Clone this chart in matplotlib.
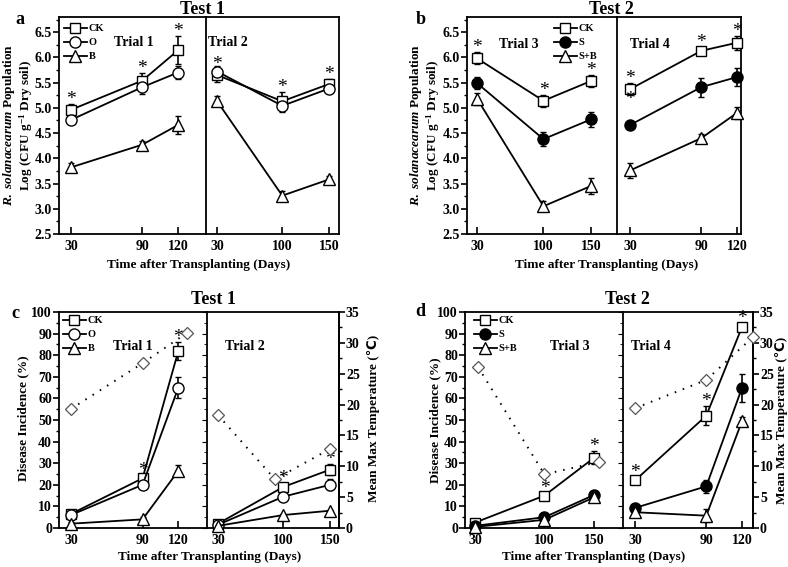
import numpy as np
import matplotlib.pyplot as plt
from matplotlib.lines import Line2D
from matplotlib.ticker import MultipleLocator, FormatStrFormatter

W, H = 788, 567

# ---- data: pathogen population, Test 1 ----
days_t1 = [30, 90, 120]
days_t2 = [30, 100, 150]
days_t3 = [30, 100, 150]
days_t4 = [30, 90, 120]

pop_t1_ck = [4.96, 5.54, 6.14]
pop_t1_ck_err = [0.11, 0.15, 0.28]
pop_t1_o = [4.76, 5.41, 5.70]
pop_t1_o_err = [0.07, 0.13, 0.12]
pop_t1_b = [3.82, 4.27, 4.66]
pop_t1_b_err = [0.08, 0.08, 0.18]

pop_t2_ck = [5.65, 5.13, 5.47]
pop_t2_ck_err = [0.13, 0.18, 0.10]
pop_t2_o = [5.72, 5.04, 5.38]
pop_t2_o_err = [0.10, 0.12, 0.08]
pop_t2_b = [5.13, 3.26, 3.58]
pop_t2_b_err = [0.10, 0.10, 0.06]

# ---- data: pathogen population, Test 2 ----
pop_t3_ck = [5.98, 5.14, 5.53]
pop_t3_ck_err = [0.12, 0.12, 0.12]
pop_t3_s = [5.49, 4.38, 4.77]
pop_t3_s_err = [0.12, 0.14, 0.14]
pop_t3_sb = [5.18, 3.05, 3.45]
pop_t3_sb_err = [0.12, 0.10, 0.16]

pop_t4_ck = [5.37, 6.13, 6.29]
pop_t4_ck_err = [0.12, 0.08, 0.14]
pop_t4_s = [4.66, 5.41, 5.61]
pop_t4_s_err = [0.07, 0.19, 0.17]
pop_t4_sb = [3.76, 4.40, 4.90]
pop_t4_sb_err = [0.15, 0.09, 0.12]

# ---- data: disease incidence (%) ----
dis_t1_ck = [6.5, 23.0, 82.0]
dis_t1_ck_err = [1.5, 1.5, 4.0]
dis_t1_o = [6.0, 20.0, 65.0]
dis_t1_o_err = [1.5, 1.5, 5.0]
dis_t1_b = [2.0, 4.0, 26.5]
dis_t1_b_err = [1.0, 1.0, 2.5]

dis_t2_ck = [2.0, 19.0, 27.0]
dis_t2_ck_err = [0.5, 2.0, 2.5]
dis_t2_o = [1.5, 14.5, 20.0]
dis_t2_o_err = [0.5, 1.5, 2.5]
dis_t2_b = [1.0, 6.0, 8.0]
dis_t2_b_err = [0.5, 0.5, 0.5]

dis_t3_ck = [2.5, 15.0, 32.5]
dis_t3_ck_err = [1.0, 1.5, 3.0]
dis_t3_s = [1.0, 5.0, 15.3]
dis_t3_s_err = [0.5, 1.0, 1.0]
dis_t3_sb = [0.5, 3.8, 14.2]
dis_t3_sb_err = [0.5, 2.0, 2.0]

dis_t4_ck = [22.0, 52.0, 93.0]
dis_t4_ck_err = [1.5, 4.5, 2.0]
dis_t4_s = [9.3, 19.3, 64.8]
dis_t4_s_err = [1.5, 3.0, 6.5]
dis_t4_sb = [7.3, 5.7, 49.4]
dis_t4_sb_err = [1.5, 3.0, 2.0]

# ---- data: mean max temperature (C) ----
temp_t1_days = [30, 90, 127]
temp_t1 = [19.3, 26.7, 31.6]
temp_t2_days = [30, 91, 150]
temp_t2 = [18.3, 7.9, 12.8]
temp_t3_days = [33, 100, 155]
temp_t3 = [26.1, 8.7, 10.7]
temp_t4_days = [30, 90, 129]
temp_t4 = [19.4, 24.0, 30.9]

# significance marks (1 = asterisk above CK)
star_a_t1 = [1, 1, 1]
star_a_t2 = [1, 1, 1]
star_b_t3 = [1, 1, 1]
star_b_t4 = [1, 1, 1]
star_c_t1 = [0, 1, 1]
star_c_t2 = [0, 1, 1]
star_d_t3 = [0, 1, 1]
star_d_t4 = [1, 1, 1]

plt.rcParams['font.family'] = ['Liberation Serif', 'DejaVu Sans']
plt.rcParams['font.weight'] = 'bold'
plt.rcParams['mathtext.fontset'] = 'custom'
plt.rcParams['mathtext.rm'] = 'Liberation Serif:bold'
plt.rcParams['mathtext.it'] = 'Liberation Serif:italic:bold'
plt.rcParams['mathtext.bf'] = 'Liberation Serif:bold'

fig = plt.figure(figsize=(W / 100, H / 100), dpi=100)

MARK = {'s': 7.5, 'o': 8, '^': 9}


def px(x, y):
    return x / W, 1 - y / H


def panel(l, d, r, t, b, xlimL, xlimR, ylim, major, minor, fmt):
    axL = fig.add_axes([l / W, 1 - b / H, (d - l) / W, (b - t) / H])
    axR = fig.add_axes([d / W, 1 - b / H, (r - d) / W, (b - t) / H], sharey=axL)
    axL.set_xlim(*xlimL)
    axR.set_xlim(*xlimR)
    axL.set_ylim(*ylim)
    axL.spines['right'].set_visible(False)
    for ax in (axL, axR):
        for s in ax.spines.values():
            s.set_linewidth(1.3)
        ax.tick_params(axis='x', direction='in', length=5, width=1.2,
                       labelsize=10, pad=4)
    axL.yaxis.set_major_locator(MultipleLocator(major))
    axL.yaxis.set_minor_locator(MultipleLocator(minor))
    axL.yaxis.set_major_formatter(FormatStrFormatter(fmt))
    axL.tick_params(axis='y', which='major', direction='out', length=4,
                    width=1.2, labelsize=10, pad=1)
    axL.tick_params(axis='y', which='minor', direction='out', length=2,
                    width=1)
    axR.tick_params(axis='y', which='both', left=False, labelleft=False)
    return axL, axR


def series(ax, days, vals, errs, marker, filled=False):
    ax.errorbar(days, vals, yerr=errs, color='k', lw=1.3, marker=marker,
                ms=MARK[marker], mfc='k' if filled else 'white', mec='k',
                mew=1.0, ecolor='k', elinewidth=1.2, capsize=2.2,
                capthick=1.2, clip_on=False, zorder=3)


def stars(ax, days, vals, errs, flags):
    for dd, v, e, f in zip(days, vals, errs, flags):
        if f:
            ax.annotate('*', (dd, v + e), xytext=(0, -3),
                        textcoords='offset points', ha='center', va='bottom',
                        fontsize=14, fontweight='normal',
                        annotation_clip=False, zorder=5)


def temp(ax, days, vals):
    ax.plot(days, vals, color='k', lw=1.4, dashes=(0.8, 3.6), marker='D',
            ms=6, mfc='white', mec='#555555', mew=0.9, clip_on=False,
            zorder=4)


def xticks(ax, days):
    ax.set_xticks(days)
    ax.set_xticklabels([str(v) for v in days])


def legend(ax, labels, fills, pos):
    h = []
    for m, f in zip(['s', 'o', '^'], fills):
        h.append(Line2D([], [], color='k', lw=1.3, marker=m,
                        ms=MARK[m], mfc='k' if f else 'white',
                        mec='k', mew=1.0))
    ax.legend(h, labels, loc='upper left', bbox_to_anchor=px(*pos),
              bbox_transform=fig.transFigure, frameon=False, fontsize=7.5,
              handlelength=2.2, handletextpad=0.15, labelspacing=0.45,
              borderpad=0, borderaxespad=0)


def ylab2(x1, x2, y, line1, line2):
    fig.text(*px(x1, y), line1, rotation=90, ha='center', va='center',
             fontsize=9.5)
    fig.text(*px(x2, y), line2, rotation=90, ha='center', va='center',
             fontsize=9.5)


def title(x, y, s):
    fig.text(*px(x, y), s, ha='center', va='baseline', fontsize=13)


line1 = r'$\mathit{R.\ solanacearum}$ Population'
line2 = r'Log (CFU g$^{-1}$ Dry soil)'
xlabel = 'Time after Transplanting (Days)'

# ---------------- panel a ----------------
aL, aR = panel(59, 206, 339, 17, 234, (20, 143.5), (18, 161), (2.5, 6.8),
               0.5, 0.25, '%.1f')
series(aL, days_t1, pop_t1_ck, pop_t1_ck_err, 's')
series(aL, days_t1, pop_t1_o, pop_t1_o_err, 'o')
series(aL, days_t1, pop_t1_b, pop_t1_b_err, '^')
series(aR, days_t2, pop_t2_ck, pop_t2_ck_err, 's')
series(aR, days_t2, pop_t2_o, pop_t2_o_err, 'o')
series(aR, days_t2, pop_t2_b, pop_t2_b_err, '^')
stars(aL, days_t1, pop_t1_ck, pop_t1_ck_err, star_a_t1)
stars(aR, days_t2, pop_t2_ck, pop_t2_ck_err, star_a_t2)
xticks(aL, days_t1)
xticks(aR, days_t2)
legend(aL, ['CK', 'O', 'B'], [0, 0, 0], (64, 24))
fig.text(*px(134, 43), 'Trial 1', ha='center', va='center', fontsize=10)
fig.text(*px(228, 43), 'Trial 2', ha='center', va='center', fontsize=10)
title(202, 14.5, 'Test 1')
fig.text(*px(20, 20), 'a', ha='center', va='center', fontsize=13)
ylab2(9, 26, 125, line1, line2)
fig.text(*px(199, 265), xlabel, ha='center', va='center', fontsize=9.5)

# ---------------- panel b ----------------
bL, bR = panel(467, 617, 741, 17, 234, (19.4, 177.6), (19, 123.4),
               (2.5, 6.8), 0.5, 0.25, '%.1f')
series(bL, days_t3, pop_t3_ck, pop_t3_ck_err, 's')
series(bL, days_t3, pop_t3_s, pop_t3_s_err, 'o', filled=True)
series(bL, days_t3, pop_t3_sb, pop_t3_sb_err, '^')
series(bR, days_t4, pop_t4_ck, pop_t4_ck_err, 's')
series(bR, days_t4, pop_t4_s, pop_t4_s_err, 'o', filled=True)
series(bR, days_t4, pop_t4_sb, pop_t4_sb_err, '^')
stars(bL, days_t3, pop_t3_ck, pop_t3_ck_err, star_b_t3)
stars(bR, days_t4, pop_t4_ck, pop_t4_ck_err, star_b_t4)
bR.annotate('*', (days_t4[0], pop_t4_ck[0] - pop_t4_ck_err[0]),
            xytext=(0, 3), textcoords='offset points', ha='center',
            va='top', fontsize=14, fontweight='normal', zorder=5)
xticks(bL, days_t3)
xticks(bR, days_t4)
legend(bL, ['CK', 'S', 'S+B'], [0, 1, 0], (554, 24))
fig.text(*px(519, 45), 'Trial 3', ha='center', va='center', fontsize=10)
fig.text(*px(650, 45), 'Trial 4', ha='center', va='center', fontsize=10)
title(611, 14.5, 'Test 2')
fig.text(*px(421, 20), 'b', ha='center', va='center', fontsize=13)
ylab2(416, 433, 125, line1, line2)
fig.text(*px(607, 265), xlabel, ha='center', va='center', fontsize=9.5)


def twins(axL, axR):
    tL = axL.twinx()
    tR = axR.twinx()
    for t in (tL, tR):
        t.set_ylim(0, 35)
        for s in t.spines.values():
            s.set_visible(False)
    tL.tick_params(axis='y', which='both', right=False, labelright=False)
    tR.spines['right'].set_visible(True)
    tR.spines['right'].set_linewidth(1.3)
    tR.yaxis.set_major_locator(MultipleLocator(5))
    tR.yaxis.set_minor_locator(MultipleLocator(2.5))
    tR.tick_params(axis='y', which='major', direction='out', length=4,
                   width=1.2, labelsize=10, pad=1)
    tR.tick_params(axis='y', which='minor', direction='out', length=2,
                   width=1)
    return tL, tR


# ---------------- panel c ----------------
cL, cR = panel(59, 207, 339, 312, 528, (20, 144), (18.2, 159.7), (0, 100),
               10, 5, '%d')
series(cL, days_t1, dis_t1_ck, dis_t1_ck_err, 's')
series(cL, days_t1, dis_t1_o, dis_t1_o_err, 'o')
series(cL, days_t1, dis_t1_b, dis_t1_b_err, '^')
series(cR, days_t2, dis_t2_ck, dis_t2_ck_err, 's')
series(cR, days_t2, dis_t2_o, dis_t2_o_err, 'o')
series(cR, days_t2, dis_t2_b, dis_t2_b_err, '^')
stars(cL, days_t1, dis_t1_ck, dis_t1_ck_err, star_c_t1)
stars(cR, days_t2, dis_t2_ck, dis_t2_ck_err, star_c_t2)
xticks(cL, days_t1)
xticks(cR, days_t2)
legend(cL, ['CK', 'O', 'B'], [0, 0, 0], (63, 316))
ctL, ctR = twins(cL, cR)
temp(ctL, temp_t1_days, temp_t1)
temp(ctR, temp_t2_days, temp_t2)
fig.text(*px(133, 347), 'Trial 1', ha='center', va='center', fontsize=10)
fig.text(*px(245, 346), 'Trial 2', ha='center', va='center', fontsize=10)
title(213, 304, 'Test 1')
fig.text(*px(15, 313), 'c', ha='center', va='center', fontsize=13)
fig.text(*px(23, 418), 'Disease Incidence (%)', rotation=90, ha='center',
         va='center', fontsize=9.5)
fig.text(*px(374, 418), 'Mean Max Temperature (\u2103)', rotation=90,
         ha='center', va='center', fontsize=9.5)
fig.text(*px(210, 557), xlabel, ha='center', va='center', fontsize=9.5)

# ---------------- panel d ----------------
dL, dR = panel(465, 623, 753, 312, 528, (19.9, 179.2), (19.9, 129.3),
               (0, 100), 10, 5, '%d')
series(dL, days_t3, dis_t3_ck, dis_t3_ck_err, 's')
series(dL, days_t3, dis_t3_s, dis_t3_s_err, 'o', filled=True)
series(dL, days_t3, dis_t3_sb, dis_t3_sb_err, '^')
series(dR, days_t4, dis_t4_ck, dis_t4_ck_err, 's')
series(dR, days_t4, dis_t4_s, dis_t4_s_err, 'o', filled=True)
series(dR, days_t4, dis_t4_sb, dis_t4_sb_err, '^')
stars(dL, days_t3, dis_t3_ck, dis_t3_ck_err, star_d_t3)
stars(dR, days_t4, dis_t4_ck, dis_t4_ck_err, star_d_t4)
xticks(dL, days_t3)
xticks(dR, days_t4)
legend(dL, ['CK', 'S', 'S+B'], [0, 1, 0], (474, 316))
dtL, dtR = twins(dL, dR)
temp(dtL, temp_t3_days, temp_t3)
temp(dtR, temp_t4_days, temp_t4)
fig.text(*px(570, 347), 'Trial 3', ha='center', va='center', fontsize=10)
fig.text(*px(651, 346), 'Trial 4', ha='center', va='center', fontsize=10)
title(627, 304, 'Test 2')
fig.text(*px(420, 311), 'd', ha='center', va='center', fontsize=13)
fig.text(*px(435, 420), 'Disease Incidence (%)', rotation=90, ha='center',
         va='center', fontsize=9.5)
fig.text(*px(782, 420), 'Mean Max Temperature (\u2103)', rotation=90,
         ha='center', va='center', fontsize=9.5)
fig.text(*px(594, 557), xlabel, ha='center', va='center', fontsize=9.5)

fig.savefig('out.png', dpi=100)
